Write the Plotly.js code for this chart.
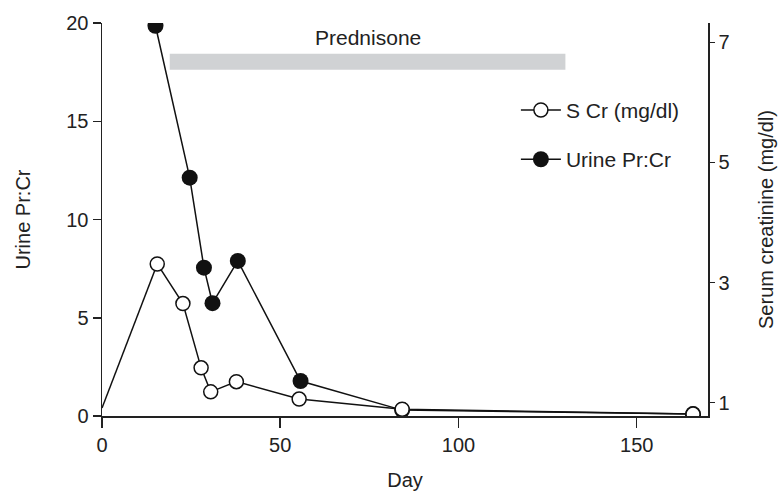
<!DOCTYPE html>
<html><head><meta charset="utf-8">
<script src="https://cdn.plot.ly/plotly-3.0.1.min.js"></script>
<style>html,body{margin:0;padding:0;background:#fff}#chart{width:779px;height:491px}</style>
</head><body><div id="chart"></div>
<script>
const scrDays = [0, 15.5, 22.7, 27.8, 30.5, 37.7, 55.3, 84.2, 165.8];
const scrValues = [0.91, 3.31, 2.65, 1.58, 1.18, 1.35, 1.06, 0.89, 0.81];
const urineDays = [15, 24.6, 28.6, 31, 38.1, 55.7, 84.2, 165.8];
const urineValues = [19.86, 12.13, 7.55, 5.74, 7.89, 1.78, 0.3, 0.1];
const prednisoneDays = [19, 130];
const prednisoneLabel = 'Prednisone';
const xTicks = [0, 50, 100, 150];
const yTicks = [0, 5, 10, 15, 20];
const y2Ticks = [1, 3, 5, 7];

const FONT = 'Liberation Sans, Arial, Helvetica, sans-serif';
const FS = 20;

const traces = [
  {
    x: urineDays, y: urineValues, yaxis: 'y', type: 'scatter', mode: 'lines+markers',
    name: 'Urine Pr:Cr', legendgroup: 'u', legendrank: 2,
    line: {color: '#111', width: 1.5},
    marker: {symbol: 'circle', size: 16, color: '#111', line: {color: '#111', width: 0}}
  },
  {
    x: scrDays.slice(0, 2), y: scrValues.slice(0, 2), yaxis: 'y2', type: 'scatter', mode: 'lines',
    showlegend: false, line: {color: '#111', width: 1.5}, hoverinfo: 'skip'
  },
  {
    x: scrDays.slice(1), y: scrValues.slice(1), yaxis: 'y2', type: 'scatter', mode: 'lines+markers',
    name: 'S Cr (mg/dl)', legendgroup: 's', legendrank: 1,
    line: {color: '#111', width: 1.5},
    marker: {symbol: 'circle', size: 14, color: '#fff', line: {color: '#111', width: 1.5}}
  }
];

const layout = {
  width: 779, height: 491,
  margin: {l: 102, r: 71, t: 23, b: 75, pad: 0},
  paper_bgcolor: '#fff', plot_bgcolor: '#fff',
  font: {family: FONT, size: FS, color: '#222'},
  showlegend: true,
  legend: {
    x: 0.683, y: 0.83, xanchor: 'left', yanchor: 'top',
    bgcolor: 'rgba(0,0,0,0)', borderwidth: 0,
    font: {family: FONT, size: 21, color: '#222'},
    tracegroupgap: 19, traceorder: 'grouped', itemwidth: 40
  },
  xaxis: {
    range: [0, 170], tickvals: xTicks, ticktext: xTicks.map(String),
    showgrid: false, zeroline: false, showline: true, linecolor: '#222', linewidth: 1.5,
    ticks: 'outside', ticklen: 10, tickwidth: 1.5, tickcolor: '#222',
    title: {text: 'Day', standoff: 32, font: {family: FONT, size: FS}},
    tickfont: {family: FONT, size: FS}
  },
  yaxis: {
    range: [0, 20], tickvals: yTicks, ticktext: yTicks.map(String),
    showgrid: false, zeroline: false, showline: true, linecolor: '#222', linewidth: 1.5,
    ticks: 'outside', ticklen: 8, tickwidth: 1.5, tickcolor: '#222',
    title: {text: 'Urine Pr:Cr', standoff: 30, font: {family: FONT, size: FS}},
    tickfont: {family: FONT, size: FS}
  },
  yaxis2: {
    overlaying: 'y', side: 'right', range: [0.778, 7.323], tickvals: y2Ticks, ticktext: y2Ticks.map(String),
    showgrid: false, zeroline: false, showline: true, linecolor: '#222', linewidth: 1.5,
    ticks: 'outside', ticklen: 5, tickwidth: 1.5, tickcolor: '#222',
    title: {text: 'Serum creatinine (mg/dl)', standoff: 30, font: {family: FONT, size: FS}},
    tickfont: {family: FONT, size: FS}
  },
  shapes: [{
    type: 'rect', xref: 'x', yref: 'y', x0: prednisoneDays[0], x1: prednisoneDays[1],
    y0: 17.62, y1: 18.44, fillcolor: '#d0d2d4', line: {width: 0}, layer: 'below'
  }],
  annotations: [{
    x: (prednisoneDays[0] + prednisoneDays[1]) / 2, y: 18.44, xref: 'x', yref: 'y',
    text: prednisoneLabel, showarrow: false, yanchor: 'bottom', xanchor: 'center', yshift: 3,
    font: {family: FONT, size: 21, color: '#222'}
  }]
};

Plotly.newPlot('chart', traces, layout, {displayModeBar: false, staticPlot: true});
</script>
</body></html>
